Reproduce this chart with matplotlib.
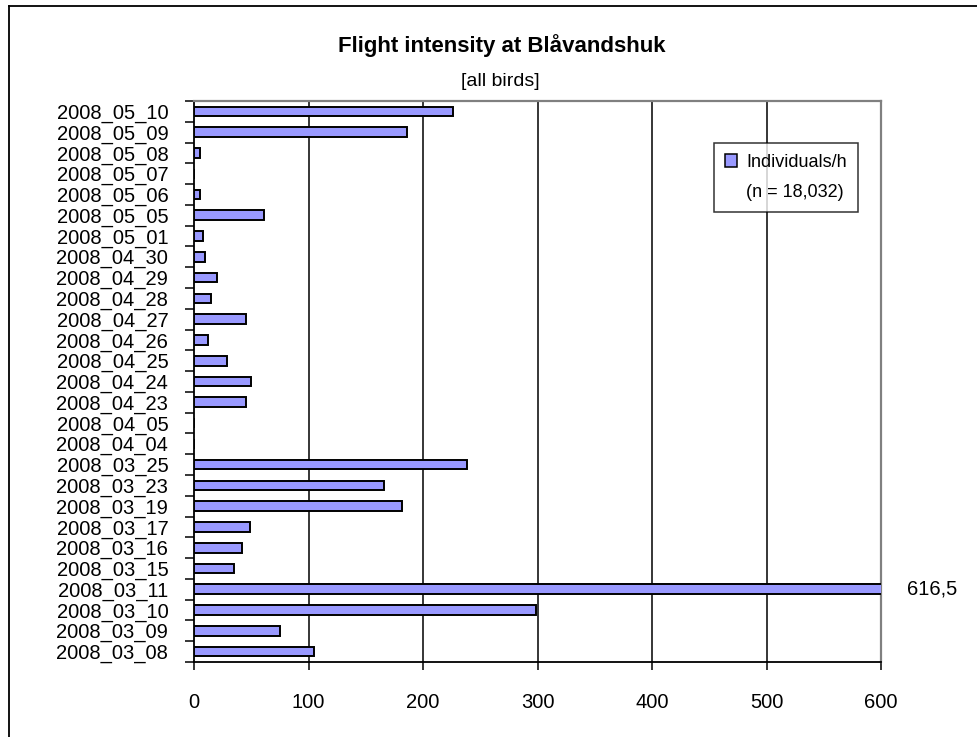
import matplotlib
matplotlib.use("Agg")
import matplotlib.pyplot as plt
from matplotlib.lines import Line2D
from matplotlib.patches import Patch
import numpy as np

plt.rcParams['font.family'] = ['Liberation Sans', 'DejaVu Sans']

# Observation days, listed top to bottom as shown on the chart
dates = [
    "2008_05_10", "2008_05_09", "2008_05_08", "2008_05_07", "2008_05_06",
    "2008_05_05", "2008_05_01", "2008_04_30", "2008_04_29", "2008_04_28",
    "2008_04_27", "2008_04_26", "2008_04_25", "2008_04_24", "2008_04_23",
    "2008_04_05", "2008_04_04", "2008_03_25", "2008_03_23", "2008_03_19",
    "2008_03_17", "2008_03_16", "2008_03_15", "2008_03_11", "2008_03_10",
    "2008_03_09", "2008_03_08",
]
# Individuals per hour for each day
individuals_per_h = [
    226, 186, 5, 0, 5,
    61, 8, 10, 20, 15,
    45, 12, 29, 50, 45,
    0, 0, 238, 166, 182,
    48.5, 41.5, 35, 616.5, 299,
    75, 104.5,
]
x_ticks = [0, 100, 200, 300, 400, 500, 600]
x_max = 600

title = "Flight intensity at Blåvandshuk"
subtitle = "[all birds]"
series_label = "Individuals/h"
n_label = "(n = 18,032)"

W, H = 977, 737
fig = plt.figure(figsize=(W / 100, H / 100), dpi=100)
ax = fig.add_axes([194 / W, 1 - 662 / H, (881 - 194) / W, (662 - 101) / H])

labels = dates[::-1]
values = individuals_per_h[::-1]
ypos = np.arange(len(labels))

bars = ax.barh(ypos, values, height=0.46, color="#9999FF",
               edgecolor="black", linewidth=1.4, zorder=3)

ax.set_xlim(0, x_max)
ax.set_ylim(-0.5, len(labels) - 0.5)

# vertical gridlines
for xv in x_ticks[1:-1]:
    ax.axvline(xv, color="black", lw=1.1, zorder=1)

# y axis: labels centred on bars, tick marks between categories
ax.set_yticks(ypos)
ax.set_yticklabels(labels, fontsize=14.5)
ax.set_yticks(np.arange(-0.5, len(labels), 1.0), minor=True)
ax.tick_params(axis="y", which="major", length=0, pad=18.5)
ax.tick_params(axis="y", which="minor", length=6.5, width=1.1, direction="out", color="black")

ax.set_xticks(x_ticks)
ax.set_xticklabels([str(t) for t in x_ticks], fontsize=14.5)
ax.tick_params(axis="x", which="major", length=6, width=1.1, direction="out", pad=16)

for side in ("left", "bottom"):
    ax.spines[side].set_color("black")
    ax.spines[side].set_linewidth(1.3)
for side in ("top", "right"):
    ax.spines[side].set_color("#808080")
    ax.spines[side].set_linewidth(1.6)

# value label for the bar running past the axis limit
for y, v in zip(ypos, values):
    if v > x_max:
        ax.annotate(f"{v:.1f}".replace(".", ","), xy=(x_max, y),
                    xytext=(19, 0), textcoords="offset points",
                    ha="left", va="center", fontsize=14.5, annotation_clip=False)

# legend: series entry plus sample size line
handles = [Patch(facecolor="#9999FF", edgecolor="black", linewidth=1.1),
           Patch(facecolor="none", edgecolor="none")]
leg = ax.legend(handles, [series_label, n_label], loc="upper left",
                bbox_to_anchor=(714 / W, 1 - 143 / H), bbox_transform=fig.transFigure,
                borderaxespad=0, fontsize=13, frameon=True, fancybox=False,
                handlelength=0.7, handleheight=0.7, handletextpad=0.5,
                labelspacing=0.75, borderpad=0.6)
leg.get_frame().set_edgecolor("black")
leg.get_frame().set_linewidth(1.1)
leg.set_zorder(5)

fig.text(502 / W, 1 - 52 / H, title, ha="center", va="baseline",
         fontsize=16, fontweight="bold")
fig.text(500 / W, 1 - 86 / H, subtitle, ha="center", va="baseline", fontsize=14)

# chart area frame
fig.add_artist(Line2D([8.5 / W, 8.5 / W], [0, 1 - 5.5 / H], transform=fig.transFigure,
                      color="black", lw=1.3))
fig.add_artist(Line2D([8.5 / W, 1], [1 - 5.5 / H, 1 - 5.5 / H], transform=fig.transFigure,
                      color="black", lw=1.3))

fig.savefig("out.png", dpi=100)
